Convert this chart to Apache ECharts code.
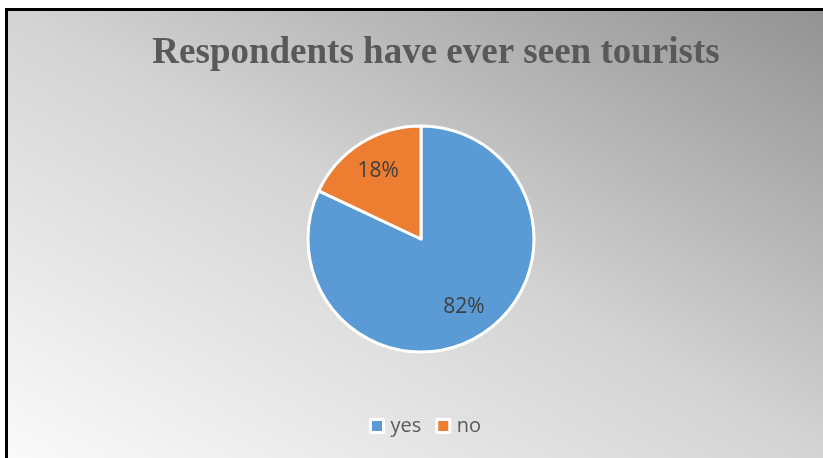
<!DOCTYPE html>
<html>
<head>
<meta charset="utf-8">
<script src="https://cdn.jsdelivr.net/npm/echarts@6/dist/echarts.min.js"></script>
<style>
  html, body { margin: 0; padding: 0; background: #ffffff; }
  #chart { width: 823px; height: 458px; }
</style>
</head>
<body>
<div id="chart"></div>
<script>
// Survey answers and their shares (percent)
const titleText = 'Respondents have ever seen tourists';
const categories = ['yes', 'no'];
const shares = [82, 18];
const sliceColors = ['#5b9bd5', '#ed7d31'];

const pieData = categories.map((name, i) => ({
  name: name,
  value: shares[i],
  itemStyle: { color: sliceColors[i] }
}));

const chart = echarts.init(document.getElementById('chart'), null, { renderer: 'canvas' });

chart.setOption({
  animation: false,
  backgroundColor: '#ffffff',
  graphic: [{
    type: 'rect',
    z: -10,
    silent: true,
    shape: { x: 6.5, y: 9.5, width: 840, height: 470 },
    style: {
      // diagonal fade: light lower-left corner, dark upper-right corner
      fill: {
        type: 'linear',
        global: true,
        x: 227, y: 578, x2: 603, y2: -108,
        colorStops: [
          { offset: 0, color: '#fafafa' },
          { offset: 0.5, color: '#d4d4d4' },
          { offset: 1, color: '#939393' }
        ]
      },
      stroke: '#000000',
      lineWidth: 3
    }
  }],
  title: {
    text: titleText,
    left: 431,
    textAlign: 'center',
    top: 30,
    textStyle: {
      fontFamily: '"Liberation Serif", "Times New Roman", serif',
      fontWeight: 'bold',
      fontSize: 37,
      lineHeight: 37,
      color: '#595959'
    }
  },
  legend: {
    data: categories,
    left: 364,
    top: 411,
    icon: 'rect',
    itemWidth: 13,
    itemHeight: 13,
    itemGap: 14,
    itemStyle: { borderColor: '#ffffff', borderWidth: 3 },
    textStyle: {
      fontFamily: '"Open Sans", sans-serif',
      fontSize: 20,
      color: '#595959',
      padding: [0, 0, 0, 2]
    }
  },
  series: [
    {
      name: 'answers',
      type: 'pie',
      center: [421, 239],
      radius: [0, 113],
      startAngle: 90,
      clockwise: true,
      label: { show: false },
      labelLine: { show: false },
      itemStyle: { borderColor: '#ffffff', borderWidth: 3 },
      emphasis: { disabled: true },
      data: pieData
    },
    {
      // label ring: places the percentages further out than the slice midpoint
      name: 'labels',
      type: 'pie',
      center: [421, 239],
      radius: [40, 114],
      startAngle: 90,
      clockwise: true,
      silent: true,
      legendHoverLink: false,
      itemStyle: { color: 'rgba(0,0,0,0)', borderWidth: 0 },
      label: {
        show: true,
        position: 'inside',
        formatter: '{c}%',
        fontFamily: '"Open Sans", sans-serif',
        fontSize: 21,
        color: '#404040'
      },
      labelLine: { show: false },
      emphasis: { disabled: true },
      data: categories.map((name, i) => ({ name: name, value: shares[i] }))
    }
  ]
});
</script>
</body>
</html>
